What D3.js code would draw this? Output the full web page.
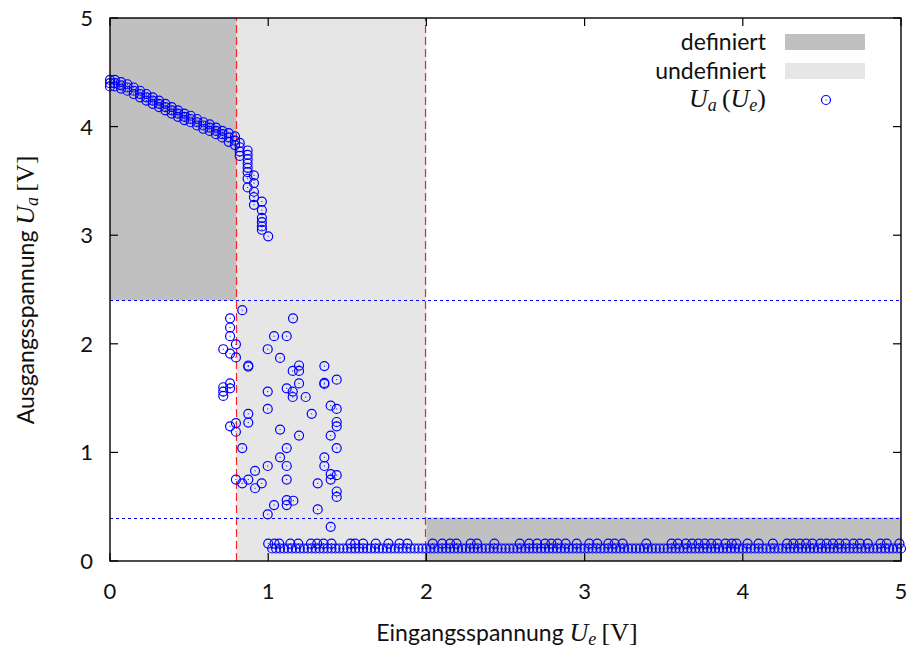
<!DOCTYPE html>
<html>
<head>
<meta charset="utf-8">
<script src="https://d3js.org/d3.v7.min.js"></script>
<style>
  body { margin: 0; background: white; }
  svg text { font-family: Lato, 'DejaVu Sans', sans-serif; fill: #111; }
  .math { font-family: 'Liberation Serif', 'DejaVu Serif', serif; }
</style>
</head>
<body>
<svg id="chart" width="913" height="651"></svg>
<script>
// tick labels
const xTicks = [0, 1, 2, 3, 4, 5];
const yTicks = [0, 1, 2, 3, 4, 5];

// logic level limits
const uGrenzeEin = [0.8, 2.0];     // red dashed, input thresholds
const uGrenzeAus = [0.4, 2.4];     // blue dotted, output thresholds

// Kennlinie: upper branch [Ue, Ua]
const kennlinie = [
  [0.00,4.43],[0.00,4.40],[0.00,4.37],
  [0.03,4.43],[0.03,4.40],[0.03,4.37],
  [0.07,4.41],[0.07,4.38],[0.07,4.35],
  [0.11,4.39],[0.11,4.36],[0.11,4.33],
  [0.15,4.36],[0.15,4.33],[0.15,4.30],
  [0.19,4.33],[0.19,4.30],[0.19,4.27],
  [0.23,4.30],[0.23,4.27],[0.23,4.24],
  [0.27,4.27],[0.27,4.24],[0.27,4.21],
  [0.31,4.24],[0.31,4.21],[0.31,4.18],
  [0.35,4.21],[0.35,4.18],[0.35,4.15],
  [0.39,4.18],[0.39,4.15],[0.39,4.12],
  [0.43,4.15],[0.43,4.12],[0.43,4.09],
  [0.47,4.12],[0.47,4.09],[0.47,4.06],
  [0.51,4.10],[0.51,4.07],[0.51,4.04],
  [0.55,4.07],[0.55,4.04],[0.55,4.01],
  [0.59,4.04],[0.59,4.01],[0.59,3.98],
  [0.63,4.02],[0.63,3.99],[0.63,3.96],
  [0.67,3.99],[0.67,3.96],[0.67,3.93],
  [0.71,3.96],[0.71,3.93],[0.71,3.90],
  [0.75,3.94],[0.75,3.90],[0.75,3.86],
  [0.79,3.91],[0.79,3.87],[0.79,3.83],
  [0.82,3.85],[0.82,3.81],[0.82,3.77],[0.82,3.73],
  [0.87,3.78],[0.87,3.74],[0.87,3.70],[0.87,3.66],[0.87,3.62],[0.87,3.58],[0.87,3.52],[0.87,3.44],
  [0.91,3.55],[0.91,3.48],[0.91,3.40],[0.91,3.35],[0.91,3.28],
  [0.96,3.31],[0.96,3.23],[0.96,3.16],[0.96,3.12],[0.96,3.08],[0.96,3.05],
  [1.00,2.99]
];

// scattered points in the transition region [Ue, Ua]
const streuung = [
  [0.836,2.31],[1.157,2.235],[0.759,2.235],[0.759,2.15],[0.759,2.07],[1.037,2.07],[1.117,2.07],
  [0.796,1.995],[0.716,1.95],[0.759,1.91],[0.796,1.875],[0.997,1.95],[1.075,1.87],[0.874,1.80],
  [0.874,1.79],[1.195,1.80],[1.195,1.75],[1.155,1.75],[1.355,1.795],[1.433,1.67],[1.355,1.64],
  [1.355,1.63],[1.195,1.635],[0.759,1.635],[0.716,1.60],[0.716,1.56],[0.716,1.52],[0.759,1.59],
  [0.997,1.56],[1.117,1.59],[1.155,1.56],[1.155,1.51],[1.237,1.51],[0.997,1.40],[0.874,1.355],
  [0.874,1.275],[1.395,1.43],[1.433,1.40],[1.275,1.355],[1.433,1.28],[1.433,1.24],[0.759,1.24],
  [0.796,1.27],[1.075,1.21],[0.796,1.19],[1.195,1.155],[1.395,1.155],[0.836,1.04],[1.117,1.04],
  [1.433,1.04],[1.075,0.955],[1.355,0.955],[0.997,0.875],[1.117,0.875],[1.355,0.875],[0.917,0.83],
  [1.395,0.80],[1.395,0.75],[1.433,0.79],[0.796,0.75],[0.874,0.75],[1.117,0.75],[0.836,0.715],
  [0.959,0.715],[1.313,0.715],[0.917,0.67],[1.433,0.64],[1.433,0.59],[1.117,0.56],[1.117,0.515],
  [1.159,0.555],[1.037,0.515],[1.313,0.475],[0.997,0.43],[1.395,0.315]
];

// low output level: upper row of points (Ue), Ua = highRowUa
const highRowUa = 0.16;
const highRowUe = [
  1.00,1.04,1.07,1.14,1.19,1.27,1.31,1.35,1.40,1.52,1.55,1.60,1.68,1.76,1.83,1.88,
  2.04,2.10,2.15,2.19,2.28,2.32,2.43,2.59,2.65,2.70,2.75,2.79,2.83,2.88,2.95,
  3.03,3.08,3.15,3.19,3.24,3.39,3.55,3.59,3.64,3.68,3.72,3.76,3.80,3.84,3.89,3.93,3.96,
  4.03,4.10,4.19,4.28,4.32,4.36,4.40,4.44,4.49,4.53,4.57,4.61,4.65,4.70,4.74,4.79,4.87,4.91,4.99
];

// low output level: dense lower row (Ue), Ua = lowRowUa
const lowRowUa = 0.115;
const lowRowUe = [
  1.025,1.05,1.075,1.1,1.125,1.15,1.175,1.2,1.225,1.25,
  1.275,1.3,1.325,1.35,1.375,1.4,1.425,1.45,1.475,1.5,
  1.525,1.55,1.575,1.6,1.625,1.65,1.675,1.7,1.725,1.75,
  1.775,1.8,1.825,1.85,1.875,1.9,1.925,1.95,1.975,2.0,
  2.025,2.05,2.075,2.1,2.125,2.15,2.175,2.2,2.225,2.25,
  2.275,2.3,2.325,2.35,2.375,2.4,2.425,2.45,2.475,2.5,
  2.525,2.55,2.575,2.6,2.625,2.65,2.675,2.7,2.725,2.75,
  2.775,2.8,2.825,2.85,2.875,2.9,2.925,2.95,2.975,3.0,
  3.025,3.05,3.075,3.1,3.125,3.15,3.175,3.2,3.225,3.25,
  3.275,3.3,3.325,3.35,3.375,3.4,3.425,3.45,3.475,3.5,
  3.525,3.55,3.575,3.6,3.625,3.65,3.675,3.7,3.725,3.75,
  3.775,3.8,3.825,3.85,3.875,3.9,3.925,3.95,3.975,4.0,
  4.025,4.05,4.075,4.1,4.125,4.15,4.175,4.2,4.225,4.25,
  4.275,4.3,4.325,4.35,4.375,4.4,4.425,4.45,4.475,4.5,
  4.525,4.55,4.575,4.6,4.625,4.65,4.675,4.7,4.725,4.75,
  4.775,4.8,4.825,4.85,4.875,4.9,4.925,4.95,4.975,5.0
];

// regions [x0, x1, y0, y1, kind]
const bereiche = [
  [0, 0.8, 2.4, 5, 'definiert'],
  [0.8, 2.0, 0, 5, 'undefiniert'],
  [2.0, 5, 0, 0.4, 'definiert']
];

const farbe = { definiert: '#c0c0c0', undefiniert: '#e6e6e6' };

const svg = d3.select('#chart');
const x = d3.scaleLinear().domain([0, 5]).range([110, 901]);
const y = d3.scaleLinear().domain([0, 5]).range([561, 18]);
const snap = v => Math.round(v) + 0.5;

// shaded regions
svg.append('g').selectAll('rect')
  .data(bereiche)
  .join('rect')
  .attr('x', d => x(d[0]))
  .attr('y', d => y(d[3]))
  .attr('width', d => x(d[1]) - x(d[0]))
  .attr('height', d => y(d[2]) - y(d[3]))
  .attr('fill', d => farbe[d[4]]);

// threshold lines
svg.append('g').selectAll('line')
  .data(uGrenzeEin)
  .join('line')
  .attr('x1', d => snap(x(d)) - 1).attr('x2', d => snap(x(d)) - 1)
  .attr('y1', y(0)).attr('y2', y(5))
  .attr('stroke', '#ff2020').attr('stroke-width', 1.2)
  .attr('stroke-dasharray', '8,4');

svg.append('g').selectAll('line')
  .data(uGrenzeAus)
  .join('line')
  .attr('x1', x(0)).attr('x2', x(5))
  .attr('y1', d => snap(y(d))).attr('y2', d => snap(y(d)))
  .attr('stroke', '#0000ff').attr('stroke-width', 1)
  .attr('stroke-dasharray', '3,3');

// all measurement points
const punkte = kennlinie.concat(streuung)
  .concat(highRowUe.map(u => [u, highRowUa]))
  .concat(lowRowUe.map(u => [u, lowRowUa]));

function marker(g) {
  g.append('circle').attr('r', 4.5)
    .attr('fill', 'none').attr('stroke', '#0000ff').attr('stroke-width', 1.2);
  g.append('rect').attr('x', -0.5).attr('y', -0.5).attr('width', 1).attr('height', 1)
    .attr('fill', '#0000ff');
}

svg.append('g').selectAll('g')
  .data(punkte)
  .join('g')
  .attr('transform', d => 'translate(' + x(d[0]) + ',' + y(d[1]) + ')')
  .call(marker);

// frame + mirrored ticks
svg.append('rect')
  .attr('x', x(0)).attr('y', y(5))
  .attr('width', x(5) - x(0)).attr('height', y(0) - y(5))
  .attr('fill', 'none').attr('stroke', '#000').attr('stroke-width', 1.4);

const tl = 8;
const ticks = svg.append('g').attr('stroke', '#000').attr('stroke-width', 1.2);
xTicks.forEach(t => {
  ticks.append('line').attr('x1', x(t)).attr('x2', x(t)).attr('y1', y(0)).attr('y2', y(0) - tl);
  ticks.append('line').attr('x1', x(t)).attr('x2', x(t)).attr('y1', y(5)).attr('y2', y(5) + tl);
});
yTicks.forEach(t => {
  ticks.append('line').attr('x1', x(0)).attr('x2', x(0) + tl).attr('y1', y(t)).attr('y2', y(t));
  ticks.append('line').attr('x1', x(5)).attr('x2', x(5) - tl).attr('y1', y(t)).attr('y2', y(t));
});

svg.append('g').selectAll('text')
  .data(xTicks)
  .join('text')
  .attr('x', d => x(d)).attr('y', 599)
  .attr('text-anchor', 'middle').attr('font-size', 22)
  .text(d => d);

svg.append('g').selectAll('text')
  .data(yTicks)
  .join('text')
  .attr('x', 93).attr('y', d => y(d) + 8)
  .attr('text-anchor', 'end').attr('font-size', 22)
  .text(d => d);

// axis titles with math parts
function mathLabel(t, parts) {
  parts.forEach(p => {
    const s = t.append('tspan').text(p.t);
    if (p.m) s.attr('class', 'math');
    if (p.i) s.attr('font-style', 'italic');
    if (p.fs) s.attr('font-size', p.fs);
    if (p.dy) s.attr('dy', p.dy);
  });
}

const xl = svg.append('text').attr('x', 507).attr('y', 641)
  .attr('text-anchor', 'middle').attr('font-size', 23);
mathLabel(xl, [
  { t: 'Eingangsspannung ' },
  { t: 'U', m: 1, i: 1, fs: 26 },
  { t: 'e', m: 1, i: 1, fs: 18, dy: 4 },
  { t: '\u2009[V]', m: 1, fs: 26, dy: -4 }
]);

const yl = svg.append('text')
  .attr('transform', 'translate(34,290) rotate(-90)')
  .attr('text-anchor', 'middle').attr('font-size', 23);
mathLabel(yl, [
  { t: 'Ausgangsspannung ' },
  { t: 'U', m: 1, i: 1, fs: 26 },
  { t: 'a', m: 1, i: 1, fs: 18, dy: 4 },
  { t: '\u2009[V]', m: 1, fs: 26, dy: -4 }
]);

// legend
const legende = [
  { name: 'definiert', y: 42 },
  { name: 'undefiniert', y: 71 }
];
const lg = svg.append('g');
legende.forEach(d => {
  lg.append('text').attr('x', 766).attr('y', d.y + 8)
    .attr('text-anchor', 'end').attr('font-size', 23).text(d.name);
  lg.append('rect').attr('x', 785).attr('y', d.y - 8)
    .attr('width', 80).attr('height', 16).attr('fill', farbe[d.name]);
});
const lt = lg.append('text').attr('x', 766).attr('y', 107)
  .attr('text-anchor', 'end').attr('font-size', 26).attr('class', 'math');
mathLabel(lt, [
  { t: 'U', i: 1 },
  { t: 'a', i: 1, fs: 18, dy: 4 },
  { t: '\u2009(', dy: -4 },
  { t: 'U', i: 1 },
  { t: 'e', i: 1, fs: 18, dy: 4 },
  { t: ')', dy: -4 }
]);
lg.append('g').attr('transform', 'translate(826,100)').call(marker);
</script>
</body>
</html>
